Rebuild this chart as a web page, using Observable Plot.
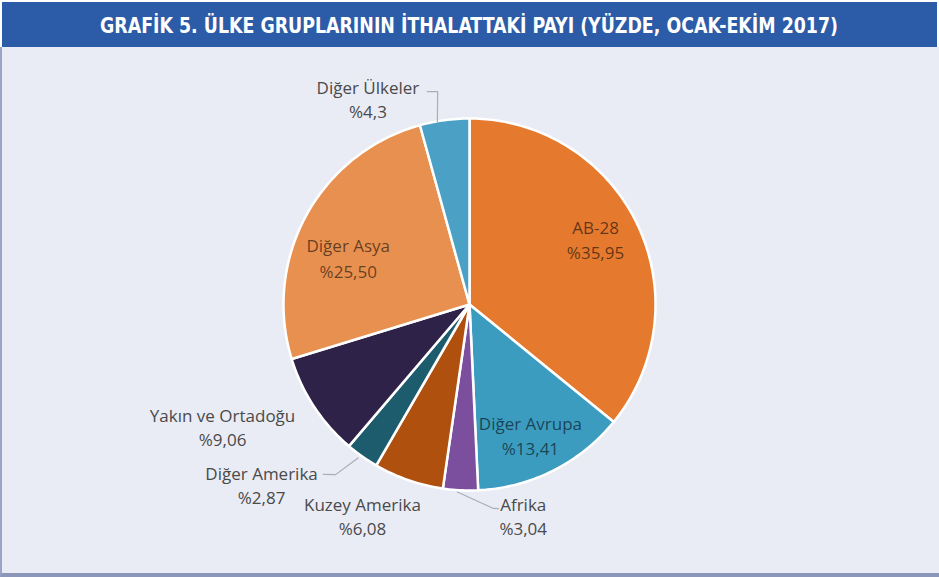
<!DOCTYPE html>
<html><head><meta charset="utf-8">
<script src="https://cdn.jsdelivr.net/npm/d3@7"></script>
<script src="https://cdn.jsdelivr.net/npm/@observablehq/plot@0.6"></script>
<style>
html,body{margin:0;padding:0;background:#ffffff;}
#wrap{position:relative;width:939px;height:577px;overflow:hidden;font-family:"Open Sans",sans-serif;}
#header{position:absolute;left:2px;top:2px;width:935px;height:45px;background:#2c5ba8;}
#panel{position:absolute;left:0;top:47px;width:937px;height:526px;background:#e9ecf5;border-left:2px solid #9aa4c6;border-bottom:4px solid #8c96b9;box-sizing:content-box;}
#chart{position:absolute;left:0;top:47px;}
</style></head>
<body>
<div id="wrap">
  <div id="header">
    <svg width="935" height="45"><text x="467" y="31" text-anchor="middle" fill="#ffffff" font-family="'Liberation Sans Narrow','DejaVu Sans Condensed','Open Sans',sans-serif" font-weight="bold" font-size="21" textLength="738" lengthAdjust="spacingAndGlyphs">GRAFİK 5. ÜLKE GRUPLARININ İTHALATTAKİ PAYI (YÜZDE, OCAK-EKİM 2017)</text></svg>
  </div>
  <div id="panel"></div>
  <div id="chart"></div>
</div>
<script>
// ---- data ----
const categories = ["AB-28", "Diğer Avrupa", "Afrika", "Kuzey Amerika", "Diğer Amerika", "Yakın ve Ortadoğu", "Diğer Asya", "Diğer Ülkeler"];
const values = [35.95, 13.41, 3.04, 6.08, 2.87, 9.06, 25.50, 4.3];
const valueLabels = ["%35,95", "%13,41", "%3,04", "%6,08", "%2,87", "%9,06", "%25,50", "%4,3"];
const colors = ["#e57a2f", "#3b9cc0", "#7c4e9e", "#b0500e", "#1d5c6d", "#2e2249", "#e8904f", "#4aa0c5"];

// ---- layout (polar, degrees clockwise from 12 o'clock; radius in pie radii) ----
const labelLayout = [
  {angle: 62.2, r: 0.766, inside: true},
  {angle: 154.9, r: 0.772, inside: true},
  {angle: 165.7, r: 1.17, inside: false},
  {angle: 206.9, r: 1.272, inside: false},
  {angle: 229.1, r: 1.479, inside: false},
  {angle: 243.7, r: 1.481, inside: false},
  {angle: 291.4, r: 0.70, inside: true},
  {angle: 333.8, r: 1.237, inside: false}
];
const leaderLayout = [
  {i: 2, pts: [[183.7, 1.01], [173.3, 1.104], [171.9, 1.108]]},
  {i: 4, pts: [[216, 1.02], [218.2, 1.164], [220.7, 1.205]]},
  {i: 7, pts: [[350, 0.995], [351.5, 1.158], [348.8, 1.167]]}
];

const cx = 469, cy = 257, R = 186, W = 939, H = 526;
const rad = a => a * Math.PI / 180;
const polar = (deg, r) => [r * Math.sin(rad(deg)), r * Math.cos(rad(deg))];

const pie = d3.pie().sort(null).value(d => d)(values);
// slice outline points sampled along the arc
const slicePts = [];
pie.forEach((p, i) => {
  const a0 = p.startAngle * 180 / Math.PI, a1 = p.endAngle * 180 / Math.PI;
  const n = Math.max(4, Math.ceil((a1 - a0) / 1));
  slicePts.push({k: i, x: 0, y: 0});
  for (let j = 0; j <= n; j++) {
    const [x, y] = polar(a0 + (a1 - a0) * j / n, 1);
    slicePts.push({k: i, x, y});
  }
  slicePts.push({k: i, x: 0, y: 0});
});

const labels = categories.map((c, i) => {
  const [x, y] = polar(labelLayout[i].angle, labelLayout[i].r);
  return {x, y, text: c + "\n" + valueLabels[i], inside: labelLayout[i].inside};
});
const leaders = [];
leaderLayout.forEach(l => l.pts.forEach(([a, r]) => {
  const [x, y] = polar(a, r);
  leaders.push({k: l.i, x, y});
}));

const chart = Plot.plot({
  width: W, height: H,
  margin: 0,
  style: {background: "transparent", overflow: "visible"},
  x: {domain: [-1, 1], range: [cx - R, cx + R], axis: null},
  y: {domain: [-1, 1], range: [cy + R, cy - R], axis: null},
  marks: [
    Plot.line(slicePts, {x: "x", y: "y", z: "k", fill: d => colors[d.k], stroke: "#ffffff", strokeWidth: 2.5, strokeLinejoin: "round", curve: "linear"}),
    Plot.line(leaders, {x: "x", y: "y", z: "k", stroke: "#a9adb8", strokeWidth: 1.2}),
    Plot.text(labels.filter(d => !d.inside), {x: "x", y: "y", text: "text", fill: "#4a4a4a", fontSize: 17, lineHeight: 1.42, fontFamily: "'Open Sans', sans-serif"}),
    Plot.text(labels.filter(d => d.inside), {x: "x", y: "y", text: "text", fill: "#000000", fillOpacity: 0.58, fontSize: 17, lineHeight: 1.48, fontFamily: "'Open Sans', sans-serif"})
  ]
});
document.getElementById("chart").appendChild(chart);
</script>
</body></html>
